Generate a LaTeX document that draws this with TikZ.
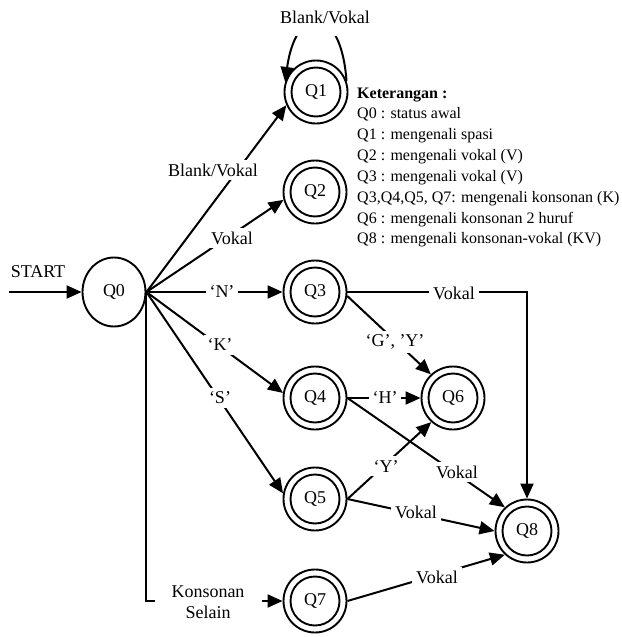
\documentclass[tikz,border=0pt]{standalone}
\usepackage{fontspec}
\setmainfont{Liberation Serif}
\usetikzlibrary{arrows.meta,shapes.geometric}
\begin{document}
\begin{tikzpicture}[x=1pt,y=-1pt,
  every node/.style={font=\fontsize{18}{21}\selectfont},
  state/.style={circle,draw,line width=1.9pt,minimum size=63pt,inner sep=0pt,
     path picture={\draw[line width=1.9pt] (path picture bounding box.center) circle[radius=24.5pt];}},
  startstate/.style={ellipse,draw,line width=1.9pt,minimum width=63pt,minimum height=69pt,inner sep=0pt},
  trans/.style={line width=2pt,-{Triangle[length=15pt,width=13pt]}},
  lab/.style={fill=white,inner sep=4pt},
  leg/.style={anchor=base west,inner sep=0pt,font=\fontsize{16}{20}\selectfont}]
\useasboundingbox (0,0) rectangle (621,637);

% states
\node[startstate] (Q0) at (114,292) {Q0};
\node[state] (Q1) at (316,92) {Q1};
\node[state] (Q2) at (315,192) {Q2};
\node[state] (Q3) at (315,292) {Q3};
\node[state] (Q4) at (315,398) {Q4};
\node[state] (Q5) at (315,499) {Q5};
\node[state] (Q7) at (315,601) {Q7};
\node[state] (Q6) at (453,398) {Q6};
\node[state] (Q8) at (527,531) {Q8};
\coordinate (S0) at (9,292);

% transitions
\draw[trans] (S0) -- (Q0.west);
\draw[trans] (Q1.20) .. controls (341,3) and (296,3) .. (Q1.162);
\draw[trans] (Q0.east) -- (Q1.204);
\draw[trans] (Q0.east) -- (Q2.194);
\draw[trans] (Q0.east) -- (Q3.west);
\draw[trans] (Q0.east) -- (Q4.171);
\draw[trans] (Q0.east) -- (Q5.170);
\draw[trans] (Q0.east) |- (Q7.west);
\draw[trans] (Q3.east) -| (Q8.north);
\draw[trans] (Q3.353) -- (Q6.133);
\draw[trans] (Q4.east) -- (Q6.west);
\draw[trans] (Q4.east) -- (Q8.133);
\draw[trans] (Q5.east) -- (Q6.228);
\draw[trans] (Q5.east) -- (Q8.west);
\draw[trans] (Q7.east) -- (Q8.227);

% labels
\node[lab,minimum height=38pt] (t1) at (325,17) {Blank/Vokal};
\node[lab] (t2) at (213,170) {Blank/Vokal};
\node[lab] (t3) at (232,238) {Vokal};
\node[lab] (t4) at (222,292) {‘N’};
\node[lab] (t5) at (220,345) {‘K’};
\node[lab] (t6) at (220,398) {‘S’};
\node[lab,align=center,inner xsep=17pt] (t7) at (208,602) {Konsonan\\Selain};
\node[lab] (t8) at (454,293) {Vokal};
\node[lab] (t9) at (395,342) {‘G’, ’Y’};
\node[lab] (t10) at (385,398) {‘H’};
\node[lab] (t11) at (386,466) {‘Y’};
\node[lab] (t12) at (457,472) {Vokal};
\node[lab] (t13) at (416,512) {Vokal};
\node[lab] (t14) at (437,577) {Vokal};
\node (t0) at (38,272) {START};

% legend
\node[leg,font=\fontsize{16}{20}\selectfont\bfseries] (k0) at (357,98.5) {Keterangan :};
\node[leg] (k1) at (357,118.5) {Q0 : status awal};
\node[leg] (k2) at (357,139.5) {Q1 : mengenali spasi};
\node[leg] (k3) at (357,160.5) {Q2 : mengenali vokal (V)};
\node[leg] (k4) at (357,181.5) {Q3 : mengenali vokal (V)};
\node[leg] (k5) at (357,202.5) {Q3,Q4,Q5, Q7: mengenali konsonan (K)};
\node[leg] (k6) at (357,223.5) {Q6 : mengenali konsonan 2 huruf};
\node[leg] (k7) at (357,243.5) {Q8 : mengenali konsonan-vokal (KV)};
\end{tikzpicture}
\end{document}
